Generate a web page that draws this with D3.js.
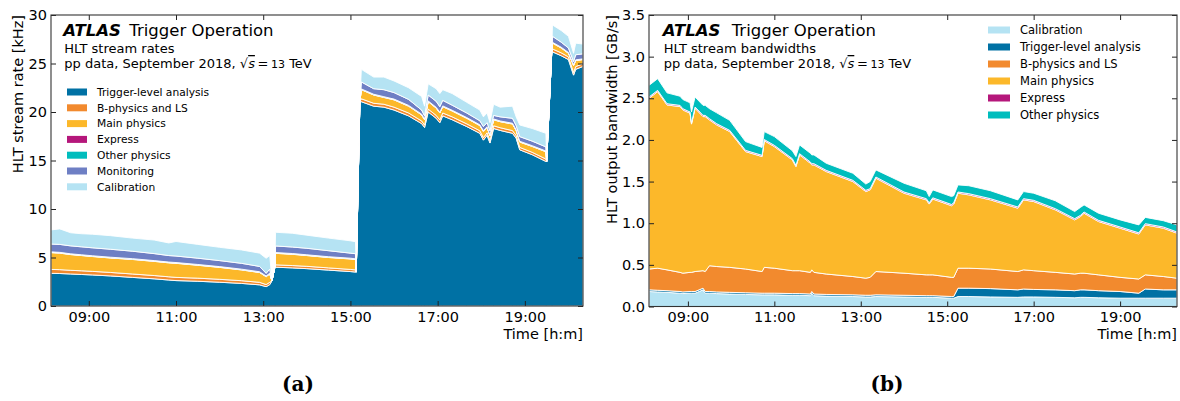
<!DOCTYPE html>
<html><head><meta charset="utf-8">
<script src="https://cdn.jsdelivr.net/npm/d3@7"></script>
<style>body{margin:0;background:#fff} text{font-family:"DejaVu Sans",sans-serif;fill:#000}</style>
</head><body><svg id="c" width="1180" height="401"></svg>
<script>
// ---------- Panel (a): HLT stream rates [kHz] ----------
const leftTimes = ["08:08","08:20","08:35","08:50","09:05","09:30","10:00","10:30","10:50","11:00","11:30","12:00","12:30","12:55","13:04","13:09","13:12","13:16","13:17","13:40","14:00","14:30","15:00","15:07","15:08","15:13","15:15","15:32","15:46","16:00","16:20","16:38","16:42","16:47","16:58","17:03","17:07","17:20","17:40","17:58","18:03","18:08","18:12","18:17","18:26","18:43","18:48","18:53","19:10","19:29","19:30","19:37","19:38","19:50","20:00","20:07","20:10","20:20"];
const leftTLA = [3.37,3.35,3.30,3.25,3.20,3.10,2.95,2.80,2.68,2.62,2.55,2.45,2.33,2.18,1.99,2.20,2.60,4.00,4.00,3.93,3.85,3.70,3.55,3.50,3.50,21.06,21.06,20.6,20.5,20.2,19.6,18.8,18.4,20.0,19.35,18.9,19.6,19.2,18.5,17.8,17.1,17.6,16.8,18.3,18.1,17.8,17.3,16.1,15.6,14.9,14.9,26.2,26.2,25.8,25.4,23.8,24.4,24.7];
const leftBphys = [0.40,0.40,0.38,0.38,0.37,0.36,0.35,0.34,0.33,0.33,0.32,0.30,0.28,0.26,0.22,0.24,0,0,0.24,0.24,0.24,0.23,0.22,0.22,0,0,0.30,0.30,0.30,0.30,0.30,0.28,0.25,0.30,0.30,0.28,0.30,0.30,0.28,0.27,0.25,0.26,0.25,0.28,0.28,0.28,0.27,0.25,0.25,0.25,0,0,0.30,0.30,0.28,0.28,0.28,0.28];
const leftMain = [1.73,1.70,1.62,1.57,1.53,1.49,1.50,1.46,1.44,1.45,1.33,1.23,1.11,1.01,0.81,0.86,0,0,1.19,1.16,1.11,1.07,1.08,1.06,0,0,0.94,0.85,0.70,0.75,0.70,0.62,0.55,0.76,0.75,0.72,0.65,0.60,0.57,0.53,0.65,0.54,0.50,0.62,0.62,0.68,0.53,0.55,0.60,0.75,0,0,0.60,0.50,0.37,0.72,0.62,0.42];
const leftExpress = [0.03,0.03,0.03,0.03,0.03,0.03,0.03,0.03,0.03,0.03,0.03,0.03,0.03,0.03,0.03,0.03,0,0,0.03,0.03,0.03,0.03,0.03,0.03,0,0,0.03,0.03,0.03,0.03,0.03,0.03,0.03,0.03,0.03,0.03,0.03,0.03,0.03,0.03,0.03,0.03,0.03,0.03,0.03,0.03,0.03,0.03,0.03,0.03,0,0,0.03,0.03,0.03,0.03,0.03,0.03];
const leftOther = [0.05,0.05,0.05,0.05,0.05,0.05,0.05,0.05,0.05,0.05,0.05,0.05,0.05,0.05,0.05,0.05,0,0,0.05,0.05,0.05,0.05,0.05,0.05,0,0,0.05,0.05,0.05,0.05,0.05,0.05,0.05,0.05,0.05,0.05,0.05,0.05,0.05,0.05,0.05,0.05,0.05,0.05,0.05,0.05,0.05,0.05,0.05,0.05,0,0,0.05,0.05,0.05,0.05,0.05,0.05];
const leftMonitoring = [0.81,0.82,0.82,0.82,0.82,0.82,0.77,0.72,0.67,0.67,0.65,0.62,0.60,0.55,0.27,0.42,0,0,0.68,0.67,0.67,0.62,0.52,0.53,0,0,0.72,0.57,0.72,0.67,0.62,0.42,0.32,0.61,0.62,0.57,0.57,0.52,0.47,0.42,0.42,0.42,0.42,0.37,0.42,0.51,0.42,0.48,0.47,0.42,0,0,0.62,0.52,0.47,0.32,0.52,0.52];
const leftCalibration = [1.45,1.60,1.35,1.35,1.40,1.40,1.35,1.40,1.30,1.50,1.42,1.37,1.38,1.37,1.55,1.40,0,0,1.41,1.42,1.35,1.30,1.27,1.24,0,0,1.30,1.20,1.30,1.20,1.20,1.40,1.00,1.15,1.30,1.35,1.10,1.20,1.10,1.10,1.00,1.00,0.85,1.15,1.00,1.25,0.90,1.20,1.30,1.40,0,0,1.17,1.20,1.20,0.85,1.20,1.00];
const leftYTicks = [0,5,10,15,20,25,30];

// ---------- Panel (b): HLT output bandwidth [GB/s] ----------
const rightTimes = ["08:06","08:18","08:31","08:49","08:53","09:03","09:05","09:10","09:21","09:24","09:30","09:40","09:58","10:20","10:43","10:46","11:00","11:25","11:30","11:35","11:50","11:52","11:55","12:12","12:49","13:07","13:13","13:21","14:00","14:31","14:35","14:40","15:06","15:09","15:15","15:30","16:00","16:38","16:46","17:00","17:30","17:57","18:05","18:10","18:30","19:00","19:26","19:35","20:00","20:19"];
const rightCalibration = [0.18,0.175,0.17,0.16,0.155,0.16,0.16,0.16,0.20,0.16,0.16,0.155,0.15,0.145,0.14,0.14,0.14,0.135,0.135,0.135,0.13,0.16,0.13,0.125,0.12,0.115,0.115,0.12,0.115,0.11,0.11,0.11,0.10,0.10,0.12,0.12,0.115,0.11,0.115,0.115,0.11,0.105,0.11,0.11,0.105,0.10,0.10,0.10,0.10,0.10];
const rightTLA = [0.02,0.02,0.02,0.02,0.02,0.02,0.02,0.02,0.02,0.02,0.02,0.02,0.02,0.02,0.02,0.02,0.02,0.02,0.02,0.02,0.02,0.02,0.02,0.02,0.02,0.02,0.02,0.02,0.02,0.02,0.02,0.02,0.02,0.02,0.10,0.10,0.10,0.09,0.095,0.09,0.09,0.085,0.09,0.09,0.085,0.08,0.06,0.11,0.10,0.10];
const rightBphys = [0.25,0.265,0.25,0.23,0.225,0.23,0.23,0.24,0.21,0.24,0.31,0.305,0.30,0.285,0.26,0.31,0.30,0.275,0.275,0.275,0.26,0.26,0.26,0.245,0.22,0.205,0.215,0.28,0.265,0.25,0.25,0.25,0.23,0.23,0.24,0.24,0.235,0.22,0.23,0.225,0.21,0.20,0.20,0.20,0.19,0.17,0.17,0.17,0.16,0.14];
const rightMain = [2.05,2.12,1.98,1.99,1.96,1.91,1.78,1.96,1.85,1.86,1.75,1.70,1.63,1.41,1.38,1.52,1.46,1.33,1.25,1.39,1.31,1.26,1.29,1.23,1.14,1.04,1.05,1.12,0.96,0.90,0.85,0.91,0.86,0.88,0.90,0.88,0.83,0.76,0.84,0.83,0.75,0.65,0.68,0.72,0.64,0.59,0.54,0.60,0.58,0.54];
const rightExpress = [0.015,0.015,0.015,0.015,0.015,0.015,0.015,0.015,0.015,0.015,0.015,0.015,0.015,0.015,0.015,0.015,0.015,0.015,0.015,0.015,0.015,0.015,0.015,0.015,0.015,0.015,0.015,0.015,0.015,0.015,0.015,0.015,0.015,0.015,0.015,0.015,0.015,0.015,0.015,0.015,0.015,0.015,0.015,0.015,0.015,0.015,0.015,0.015,0.015,0.015];
const rightOther = [0.14,0.14,0.13,0.11,0.11,0.11,0.13,0.12,0.12,0.12,0.12,0.13,0.12,0.105,0.095,0.095,0.105,0.095,0.105,0.105,0.105,0.105,0.105,0.085,0.085,0.075,0.085,0.085,0.105,0.095,0.075,0.095,0.095,0.085,0.085,0.095,0.095,0.085,0.085,0.085,0.095,0.085,0.095,0.085,0.085,0.085,0.095,0.075,0.075,0.085];
const rightYTicks = [0,0.5,1.0,1.5,2.0,2.5,3.0,3.5];

const xTickLabels = ["09:00","11:00","13:00","15:00","17:00","19:00"];

const colors = {
  tla:"#0071a4", bphys:"#f28a2e", main:"#fcb82a", express:"#b5177b",
  other:"#00bdbd", monitoring:"#6e7fc4", calibration:"#b5e3f3"
};
const names = {
  tla:"Trigger-level analysis", bphys:"B-physics and LS", main:"Main physics",
  express:"Express", other:"Other physics", monitoring:"Monitoring", calibration:"Calibration"
};

const parse = d3.timeParse("%H:%M");
const svg = d3.select("#c");

function panel(cfg) {
  const x = d3.scaleTime().domain([parse(cfg.xStart), parse(cfg.xEnd)]).range([cfg.x0, cfg.x1]);
  const y = d3.scaleLinear().domain([0, cfg.yMax]).range([cfg.y1, cfg.y0]);
  const rows = cfg.times.map((t, i) => {
    const r = {t: parse(t)};
    cfg.keys.forEach(k => r[k] = cfg.series[k][i]);
    return r;
  });
  const stacked = d3.stack().keys(cfg.keys)(rows);
  const clipId = "clip" + cfg.id;
  svg.append("clipPath").attr("id", clipId).append("rect")
    .attr("x", cfg.x0).attr("y", cfg.y0).attr("width", cfg.x1 - cfg.x0).attr("height", cfg.y1 - cfg.y0);
  const area = d3.area().x(d => x(d.data.t)).y0(d => y(d[0])).y1(d => y(d[1]));
  const g = svg.append("g").attr("clip-path", `url(#${clipId})`);
  g.selectAll("path").data(stacked).join("path")
    .attr("d", area)
    .attr("fill", d => colors[d.key])
    .attr("stroke", "#fff").attr("stroke-width", 0.9).attr("stroke-linejoin", "round");

  const tickVals = xTickLabels.map(parse);
  const fmt = d3.timeFormat("%H:%M");
  const axB = svg.append("g").attr("transform", `translate(0,${cfg.y1})`)
    .call(d3.axisBottom(x).tickValues(tickVals).tickFormat(fmt).tickSize(-5).tickPadding(5.5));
  const axT = svg.append("g").attr("transform", `translate(0,${cfg.y0})`)
    .call(d3.axisTop(x).tickValues(tickVals).tickFormat("").tickSize(-5));
  const axL = svg.append("g").attr("transform", `translate(${cfg.x0},0)`)
    .call(d3.axisLeft(y).tickValues(cfg.yTicks).tickFormat(cfg.yFmt).tickSize(-5).tickPadding(4));
  const axR = svg.append("g").attr("transform", `translate(${cfg.x1},0)`)
    .call(d3.axisRight(y).tickValues(cfg.yTicks).tickFormat("").tickSize(-5));
  [axB, axT, axL, axR].forEach(a => {
    a.select(".domain").remove();
    a.selectAll("line").attr("stroke", "#222").attr("stroke-width", 1);
    a.selectAll("text").style("font-family", "DejaVu Sans").style("font-size", "14.5px").attr("fill", "#000");
  });
  svg.append("rect").attr("x", cfg.x0).attr("y", cfg.y0)
    .attr("width", cfg.x1 - cfg.x0).attr("height", cfg.y1 - cfg.y0)
    .attr("fill", "none").attr("stroke", "#333").attr("stroke-width", 1.1);

  // axis labels
  svg.append("text").attr("transform", `translate(${cfg.yLabelX},${cfg.y0}) rotate(-90)`)
    .attr("text-anchor", "end").style("font-size", "14.5px").text(cfg.yLabel);
  svg.append("text").attr("x", cfg.x1).attr("y", 339).attr("text-anchor", "end")
    .style("font-size", "14.5px").text("Time [h:m]");

  // ATLAS label
  svg.append("text").attr("x", cfg.atlasX).attr("y", 36)
    .style("font-size", "16.5px").style("font-weight", "bold").style("font-style", "italic").text("ATLAS");
  svg.append("text").attr("x", cfg.trigX).attr("y", 36).style("font-size", "16.5px").text("Trigger Operation");
  svg.append("text").attr("x", cfg.atlasX + 1).attr("y", 53).style("font-size", "13px").text(cfg.sub);
  const t2 = svg.append("text").attr("x", cfg.atlasX + 1).attr("y", 68).style("font-size", "13px");
  t2.append("tspan").text("pp data, September 2018, ");
  t2.append("tspan").text("\u221A");
  t2.append("tspan").style("font-style", "italic").style("text-decoration", "overline").text("s");
  t2.append("tspan").text("\u2009=\u2009");
  t2.append("tspan").style("font-size", "11px").text("13");
  t2.append("tspan").text(" TeV");

  // legend
  const lg = svg.append("g");
  cfg.legend.forEach((k, i) => {
    const cy = cfg.legY + i * cfg.legStep;
    lg.append("rect").attr("x", cfg.legX).attr("y", cy - 3.5).attr("width", cfg.legW).attr("height", 7)
      .attr("fill", colors[k]);
    lg.append("text").attr("x", cfg.legX + cfg.legW + 10).attr("y", cy).attr("dy", "0.35em")
      .style("font-size", cfg.legFont).text(names[k]);
  });

  svg.append("text").attr("x", cfg.capX).attr("y", 391).attr("text-anchor", "middle")
    .style("font-family", "DejaVu Serif").style("font-weight", "bold").style("font-size", "20px").text(cfg.cap);
}

panel({
  id: "a", x0: 51, x1: 583, y0: 15, y1: 306, xStart: "08:08", xEnd: "20:20", yMax: 30,
  yTicks: leftYTicks, yFmt: d3.format("d"), yLabel: "HLT stream rate [kHz]", yLabelX: 23,
  times: leftTimes,
  keys: ["tla","bphys","main","express","other","monitoring","calibration"],
  series: {tla: leftTLA, bphys: leftBphys, main: leftMain, express: leftExpress, other: leftOther, monitoring: leftMonitoring, calibration: leftCalibration},
  legend: ["tla","bphys","main","express","other","monitoring","calibration"],
  legX: 67, legW: 20, legY: 92, legStep: 15.8, legFont: "10.7px",
  atlasX: 63.3, trigX: 129.3, sub: "HLT stream rates", cap: "(a)", capX: 298
});
panel({
  id: "b", x0: 649, x1: 1177, y0: 15, y1: 306.5, xStart: "08:06", xEnd: "20:19", yMax: 3.5,
  yTicks: rightYTicks, yFmt: d3.format(".1f"), yLabel: "HLT output bandwidth [GB/s]", yLabelX: 617,
  times: rightTimes,
  keys: ["calibration","tla","bphys","main","express","other"],
  series: {calibration: rightCalibration, tla: rightTLA, bphys: rightBphys, main: rightMain, express: rightExpress, other: rightOther},
  legend: ["calibration","tla","bphys","main","express","other"],
  legX: 988, legW: 22, legY: 30, legStep: 17, legFont: "11.5px",
  atlasX: 662.7, trigX: 731.7, sub: "HLT stream bandwidths", cap: "(b)", capX: 887
});
</script></body></html>
